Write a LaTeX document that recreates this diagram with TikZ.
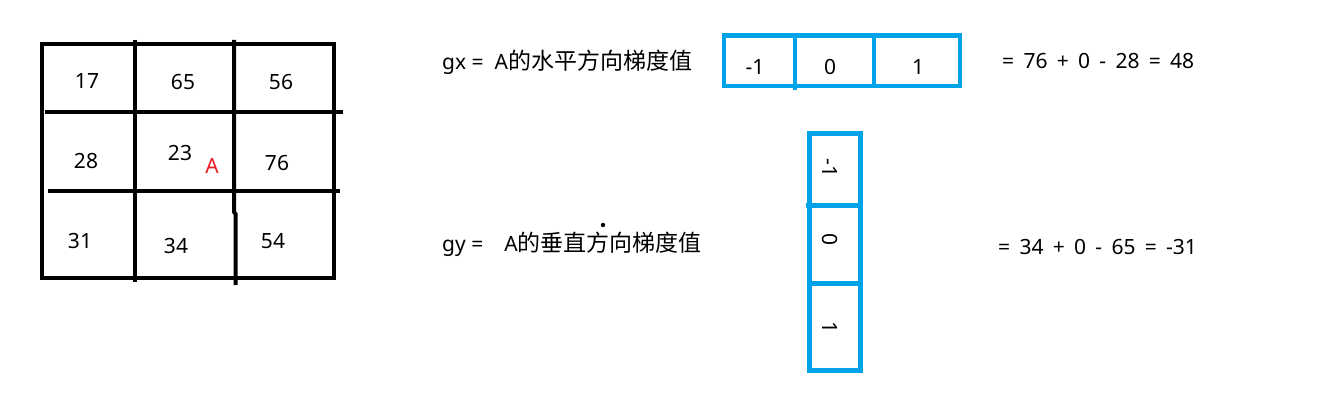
\documentclass[tikz,border=0pt]{standalone}
\usepackage{fontspec}
\setmainfont{Noto Sans}
\newfontfamily\cjk{Noto Sans CJK SC}
\definecolor{kblue}{HTML}{00A2E8}
\definecolor{ared}{HTML}{ED1C24}
\newcommand\widesp{\spaceskip 9.3pt\relax}
\begin{document}
\begin{tikzpicture}[x=1pt,y=-1pt,
  gridline/.style={line width=4pt,black},
  kern/.style={line width=4.5pt,kblue},
  num/.style={font=\fontsize{21}{24}\selectfont,inner sep=0pt},
  knum/.style={font=\fontsize{21}{24}\selectfont,inner sep=0pt},
  lbl/.style={font=\fontsize{21}{24}\selectfont,inner sep=0pt,anchor=west},
  eqn/.style={font=\fontsize{21}{24}\selectfont,inner sep=0pt,anchor=west}]
\useasboundingbox[fill=white] (0,0) rectangle (1329,401);
% grid
\draw[gridline] (41.5,44) rectangle (334,278);
\draw[gridline] (45,112) -- (343,112);
\draw[gridline] (48,191) -- (340,191);
\draw[gridline] (135,40) -- (135,282);
\draw[gridline] (234,40) -- (234,212) -- (235.5,214) -- (235.5,285);
% grid values
\node[num] (n17) at (87,81) {17};
\node[num] (n65) at (183,82) {65};
\node[num] (n56) at (281,82) {56};
\node[num] (n28) at (86,161) {28};
\node[num] (n23) at (180,153) {23};
\node[num,text=ared] (nA) at (212,166) {A};
\node[num] (n76) at (277,163) {76};
\node[num] (n31) at (80,241) {31};
\node[num] (n34) at (176,246) {34};
\node[num] (n54) at (273,241) {54};
% labels
\node[lbl] (gx) at (442,62) {gx =\ \ A{\cjk\fontsize{23}{26}\selectfont 的水平方向梯度值}};
\node[lbl] (gy) at (442,244) {gy =\hspace{21pt}A{\cjk\fontsize{23}{26}\selectfont 的垂直方向梯度值}};
\fill (603,225) circle (2.2pt);
% horizontal kernel
\draw[kern] (724,35.5) rectangle (960,86);
\draw[kern] (795,35.5) -- (795,90);
\draw[kern] (874,35.5) -- (874,86);
\node[knum] (h1) at (755,67) {-1};
\node[knum] (h2) at (830,67) {0};
\node[knum] (h3) at (918,67) {1};
% vertical kernel
\draw[kern] (809.5,133.5) rectangle (860.5,370.5);
\draw[kern] (806,205.5) -- (860.5,205.5);
\draw[kern] (809.5,283.5) -- (860.5,283.5);
\node[knum,rotate=-90] (v1) at (830,168) {-1};
\node[knum,rotate=-90] (v2) at (830,240) {0};
\node[knum,rotate=-90] (v3) at (830,328) {1};
% results
\node[eqn] (rx) at (1002,61) {\widesp = 76 + 0 - 28 = 48};
\node[eqn] (ry) at (998,247) {\widesp = 34 + 0 - 65 = -31};
\end{tikzpicture}
\end{document}
